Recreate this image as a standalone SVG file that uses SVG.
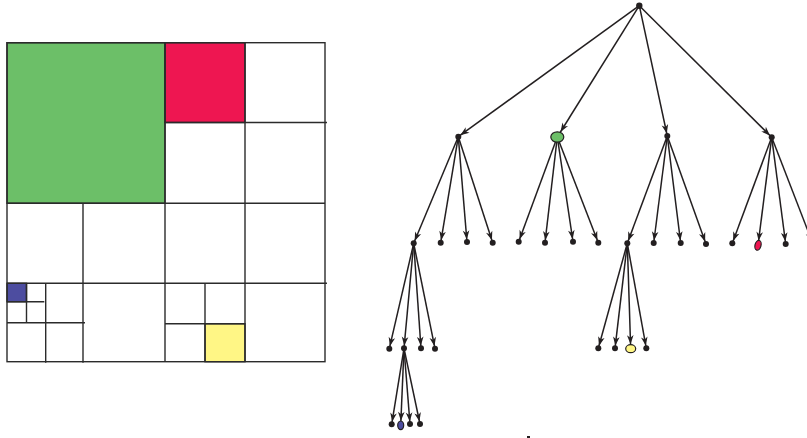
<svg xmlns="http://www.w3.org/2000/svg" width="807" height="438" viewBox="0 0 807 438">
<style>
.g{fill:none;stroke:#2b2b2b;stroke-width:1.4}
.e{stroke:#231f20;stroke-width:1.5;fill:none}
.a3{marker-end:url(#a3)}
.a5{marker-end:url(#a5)}
.a7{marker-end:url(#a7)}
.n{fill:#231f20}
.c{stroke:#231f20;stroke-width:1.2}
</style>
<defs>
<marker id="a3" markerUnits="userSpaceOnUse" orient="auto" overflow="visible" markerWidth="12" markerHeight="8" refX="0" refY="0"><path d="M-2.5,0 L-11.5,-3.3 L-9,0 L-11.5,3.3 Z" fill="#231f20"/></marker>
<marker id="a5" markerUnits="userSpaceOnUse" orient="auto" overflow="visible" markerWidth="12" markerHeight="8" refX="0" refY="0"><path d="M-4.5,0 L-13.5,-3.3 L-11,0 L-13.5,3.3 Z" fill="#231f20"/></marker>
<marker id="a7" markerUnits="userSpaceOnUse" orient="auto" overflow="visible" markerWidth="12" markerHeight="8" refX="0" refY="0"><path d="M-6,0 L-15,-3.3 L-12.5,0 L-15,3.3 Z" fill="#231f20"/></marker>
</defs>
<rect width="807" height="438" fill="#fff"/>
<g id="grid">
<rect x="7" y="42.7" width="158" height="160.6" fill="#6cbf68"/>
<rect x="165" y="42.7" width="80" height="79.8" fill="#ee1651"/>
<rect x="7" y="283.3" width="19.5" height="18.4" fill="#4d4da0"/>
<rect x="205" y="323.7" width="40" height="38" fill="#fff685"/>
<rect class="g" x="7" y="42.7" width="318" height="319"/>
<path class="g" d="M165,42.7V361.7 M245,42.7V361.7 M165,122.5H327 M7,203.3H325 M7,283.3H327 M83,203.3V362.7 M7,322.7H85 M45.7,283.3V362.7 M7,301.7H44.3 M26.5,283.3V322.7 M205,283.3V361.7 M165,323.7H245"/>
<rect class="g" x="7" y="42.7" width="158" height="160.6"/>
<rect class="g" x="165" y="42.7" width="80" height="79.8"/>
<rect class="g" x="7" y="283.3" width="19.5" height="18.4"/>
<rect class="g" x="205" y="323.7" width="40" height="38"/>
</g>
<g id="connectors">
<line class="e a3" x1="639.3" y1="5.7" x2="458.3" y2="136.7"/>
<line class="e a7" x1="639.3" y1="5.7" x2="557.3" y2="137"/>
<line class="e a3" x1="639.3" y1="5.7" x2="667.3" y2="136"/>
<line class="e a3" x1="639.3" y1="5.7" x2="771.7" y2="137.3"/>
<line class="e a3" x1="458.3" y1="136.7" x2="413.7" y2="243.3"/>
<line class="e a3" x1="458.3" y1="136.7" x2="440.7" y2="242.7"/>
<line class="e a3" x1="458.3" y1="136.7" x2="467" y2="242"/>
<line class="e a3" x1="458.3" y1="136.7" x2="492.7" y2="242.7"/>
<line class="e a3" x1="557.3" y1="137" x2="518.7" y2="241.7"/>
<line class="e a3" x1="557.3" y1="137" x2="545" y2="242.7"/>
<line class="e a3" x1="557.3" y1="137" x2="573" y2="241.7"/>
<line class="e a3" x1="557.3" y1="137" x2="598.3" y2="242.7"/>
<line class="e a3" x1="667.3" y1="136" x2="627.3" y2="243.3"/>
<line class="e a3" x1="667.3" y1="136" x2="653.7" y2="243"/>
<line class="e a3" x1="667.3" y1="136" x2="680.7" y2="243"/>
<line class="e a3" x1="667.3" y1="136" x2="706" y2="244"/>
<line class="e a3" x1="771.7" y1="137.3" x2="732.3" y2="243.3"/>
<line class="e a5" x1="771.7" y1="137.3" x2="758" y2="245.3"/>
<line class="e a3" x1="771.7" y1="137.3" x2="785.7" y2="244"/>
<line class="e a3" x1="771.7" y1="137.3" x2="813" y2="244"/>
<line class="e a3" x1="413.7" y1="243.3" x2="389.3" y2="348.7"/>
<line class="e a3" x1="413.7" y1="243.3" x2="404" y2="348.3"/>
<line class="e a3" x1="413.7" y1="243.3" x2="421" y2="348.3"/>
<line class="e a3" x1="413.7" y1="243.3" x2="435" y2="348.7"/>
<line class="e a3" x1="627.3" y1="243.3" x2="598.3" y2="348.3"/>
<line class="e a3" x1="627.3" y1="243.3" x2="615" y2="348.3"/>
<line class="e a5" x1="627.3" y1="243.3" x2="630.7" y2="348.7"/>
<line class="e a3" x1="627.3" y1="243.3" x2="646.3" y2="348.3"/>
<line class="e a3" x1="404" y1="348.3" x2="391.7" y2="424.3"/>
<line class="e a5" x1="404" y1="348.3" x2="400.7" y2="425.3"/>
<line class="e a3" x1="404" y1="348.3" x2="410" y2="424"/>
<line class="e a3" x1="404" y1="348.3" x2="420" y2="424"/>
</g>
<g id="root"><circle class="n" cx="639.3" cy="5.7" r="3.2"/></g>
<g id="n1a"><circle class="n" cx="458.3" cy="136.7" r="3"/></g>
<g id="n1b"><ellipse cx="557.3" cy="137" rx="6.5" ry="5.2" fill="#6cbf68" class="c"/></g>
<g id="n1c"><circle class="n" cx="667.3" cy="136" r="3"/></g>
<g id="n1d"><circle class="n" cx="771.7" cy="137.3" r="3"/></g>
<g id="n2a1"><circle class="n" cx="413.7" cy="243.3" r="3"/></g>
<g id="n2a2"><circle class="n" cx="440.7" cy="242.7" r="3"/></g>
<g id="n2a3"><circle class="n" cx="467" cy="242" r="3"/></g>
<g id="n2a4"><circle class="n" cx="492.7" cy="242.7" r="3"/></g>
<g id="n2b1"><circle class="n" cx="518.7" cy="241.7" r="3"/></g>
<g id="n2b2"><circle class="n" cx="545" cy="242.7" r="3"/></g>
<g id="n2b3"><circle class="n" cx="573" cy="241.7" r="3"/></g>
<g id="n2b4"><circle class="n" cx="598.3" cy="242.7" r="3"/></g>
<g id="n2c1"><circle class="n" cx="627.3" cy="243.3" r="3"/></g>
<g id="n2c2"><circle class="n" cx="653.7" cy="243" r="3"/></g>
<g id="n2c3"><circle class="n" cx="680.7" cy="243" r="3"/></g>
<g id="n2c4"><circle class="n" cx="706" cy="244" r="3"/></g>
<g id="n2d1"><circle class="n" cx="732.3" cy="243.3" r="3"/></g>
<g id="n2d2"><ellipse cx="758" cy="245.3" rx="3" ry="5" transform="rotate(15 758 245.3)" fill="#ee1651" class="c"/></g>
<g id="n2d3"><circle class="n" cx="785.7" cy="244" r="3"/></g>
<g id="n2d4"><circle class="n" cx="813" cy="244" r="3"/></g>
<g id="n3a1"><circle class="n" cx="389.3" cy="348.7" r="3"/></g>
<g id="n3a2"><circle class="n" cx="404" cy="348.3" r="3"/></g>
<g id="n3a3"><circle class="n" cx="421" cy="348.3" r="3"/></g>
<g id="n3a4"><circle class="n" cx="435" cy="348.7" r="3"/></g>
<g id="n3c1"><circle class="n" cx="598.3" cy="348.3" r="3"/></g>
<g id="n3c2"><circle class="n" cx="615" cy="348.3" r="3"/></g>
<g id="n3c3"><ellipse cx="630.7" cy="348.7" rx="5" ry="4" fill="#fff685" class="c"/></g>
<g id="n3c4"><circle class="n" cx="646.3" cy="348.3" r="3"/></g>
<g id="n4a1"><circle class="n" cx="391.7" cy="424.3" r="3"/></g>
<g id="n4a2"><ellipse cx="400.7" cy="425.3" rx="3" ry="4.3" fill="#4d4da0" class="c"/></g>
<g id="n4a3"><circle class="n" cx="410" cy="424" r="3"/></g>
<g id="n4a4"><circle class="n" cx="420" cy="424" r="3"/></g>
<rect x="527" y="436" width="3" height="2" fill="#231f20"/>
</svg>
